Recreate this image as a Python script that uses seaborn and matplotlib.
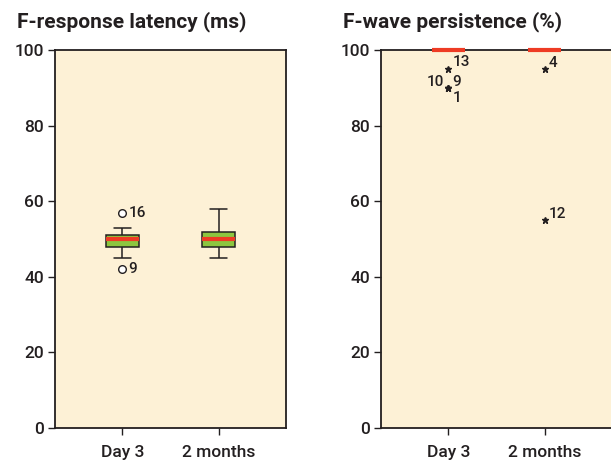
import numpy as np
import pandas as pd
import matplotlib.pyplot as plt
import seaborn as sns

# per-patient values (patients 1..20)
patients = list(range(1, 21))
latency_day3 = [50, 48, 51, 49, 52, 47, 50, 51, 42, 53, 48, 50, 46, 51, 49, 57, 45, 52, 50, 51]
latency_2m = [49, 50, 52, 47, 56, 48, 51, 45, 50, 53, 47, 58, 50, 52, 46, 49, 54, 51, 48, 50]
persist_day3 = [90, 100, 100, 100, 100, 100, 100, 100, 90, 90, 100, 100, 95, 100, 100, 100, 100, 100, 100, 100]
persist_2m = [100, 100, 100, 95, 100, 100, 100, 100, 100, 100, 100, 55, 100, 100, 100, 100, 100, 100, 100, 100]
times = ["Day 3", "2 months"]

# labelled outliers: (time, patient)
latency_flagged = [("Day 3", 16), ("Day 3", 9)]
persist_flagged = [("Day 3", 13), ("Day 3", 10), ("Day 3", 9), ("Day 3", 1),
                   ("2 months", 4), ("2 months", 12)]

df = pd.DataFrame({
    "patient": patients * 2,
    "time": ["Day 3"] * 20 + ["2 months"] * 20,
    "latency": latency_day3 + latency_2m,
    "persistence": persist_day3 + persist_2m,
})

sns.set_theme(style="white")
plt.rcParams['font.family'] = ['Roboto', 'Liberation Sans', 'DejaVu Sans']
plt.rcParams['font.weight'] = 'medium'
ink = "#231f20"
bg = "#fdf1d6"
green = "#8cc63f"
red = "#ee3b24"

fig = plt.figure(figsize=(6.11, 4.63), dpi=100)
ax1 = fig.add_axes([0.090, 0.0756, 0.378, 0.816])
ax2 = fig.add_axes([0.6236, 0.0756, 0.378, 0.816])

common = dict(x="time", order=times, color=green, saturation=1, width=0.35,
              linecolor=ink, linewidth=1.1,
              medianprops=dict(color=red, linewidth=3, solid_capstyle="butt",
                               zorder=5, clip_on=False))

sns.boxplot(data=df, y="latency", ax=ax1,
            flierprops=dict(marker="o", markerfacecolor="white",
                            markeredgecolor=ink, markersize=5.5, markeredgewidth=1),
            **common)
sns.boxplot(data=df, y="persistence", ax=ax2,
            flierprops=dict(marker="*", markerfacecolor=ink,
                            markeredgecolor=ink, markersize=5),
            **common)

def label(ax, col, time, pid, dx, dy, ha="left", va="center"):
    v = df[(df.time == time) & (df.patient == pid)][col].iloc[0]
    ax.annotate(str(pid), (times.index(time), v), xytext=(dx, dy),
                textcoords="offset points", ha=ha, va=va, fontsize=11, color=ink)

for t, p in latency_flagged:
    label(ax1, "latency", t, p, 4.5, 0)
offs = {("Day 3", 13): (3, 5, "left"), ("Day 3", 10): (-3, 4, "right"),
        ("Day 3", 9): (3, 4, "left"), ("Day 3", 1): (3, -7.5, "left"),
        ("2 months", 4): (3, 4.5, "left"), ("2 months", 12): (3, 4.5, "left")}
for t, p in persist_flagged:
    dx, dy, ha = offs[(t, p)]
    label(ax2, "persistence", t, p, dx, dy, ha=ha)

titles = ["F-response latency (ms)", "F-wave persistence (%)"]
for ax, title, tx in [(ax1, titles[0], 17), (ax2, titles[1], 343)]:
    ax.set_facecolor(bg)
    ax.set_ylim(0, 100)
    ax.set_xlim(-0.7, 1.7)
    ax.set_yticks(np.arange(0, 101, 20))
    ax.set_xlabel("")
    ax.set_ylabel("")
    for s in ax.spines.values():
        s.set_color(ink)
        s.set_linewidth(1.3)
    ax.tick_params(axis="both", length=5, width=1, color=ink, labelcolor=ink,
                   labelsize=12.5, left=True, bottom=True, direction="out", pad=3)
    ax.tick_params(axis="x", pad=7)
    fig.text(tx / 611, 1 - 22 / 463, title, fontsize=15, fontweight="bold",
             color=ink, ha="left", va="center")

fig.savefig("out.png", dpi=100, facecolor="white")
